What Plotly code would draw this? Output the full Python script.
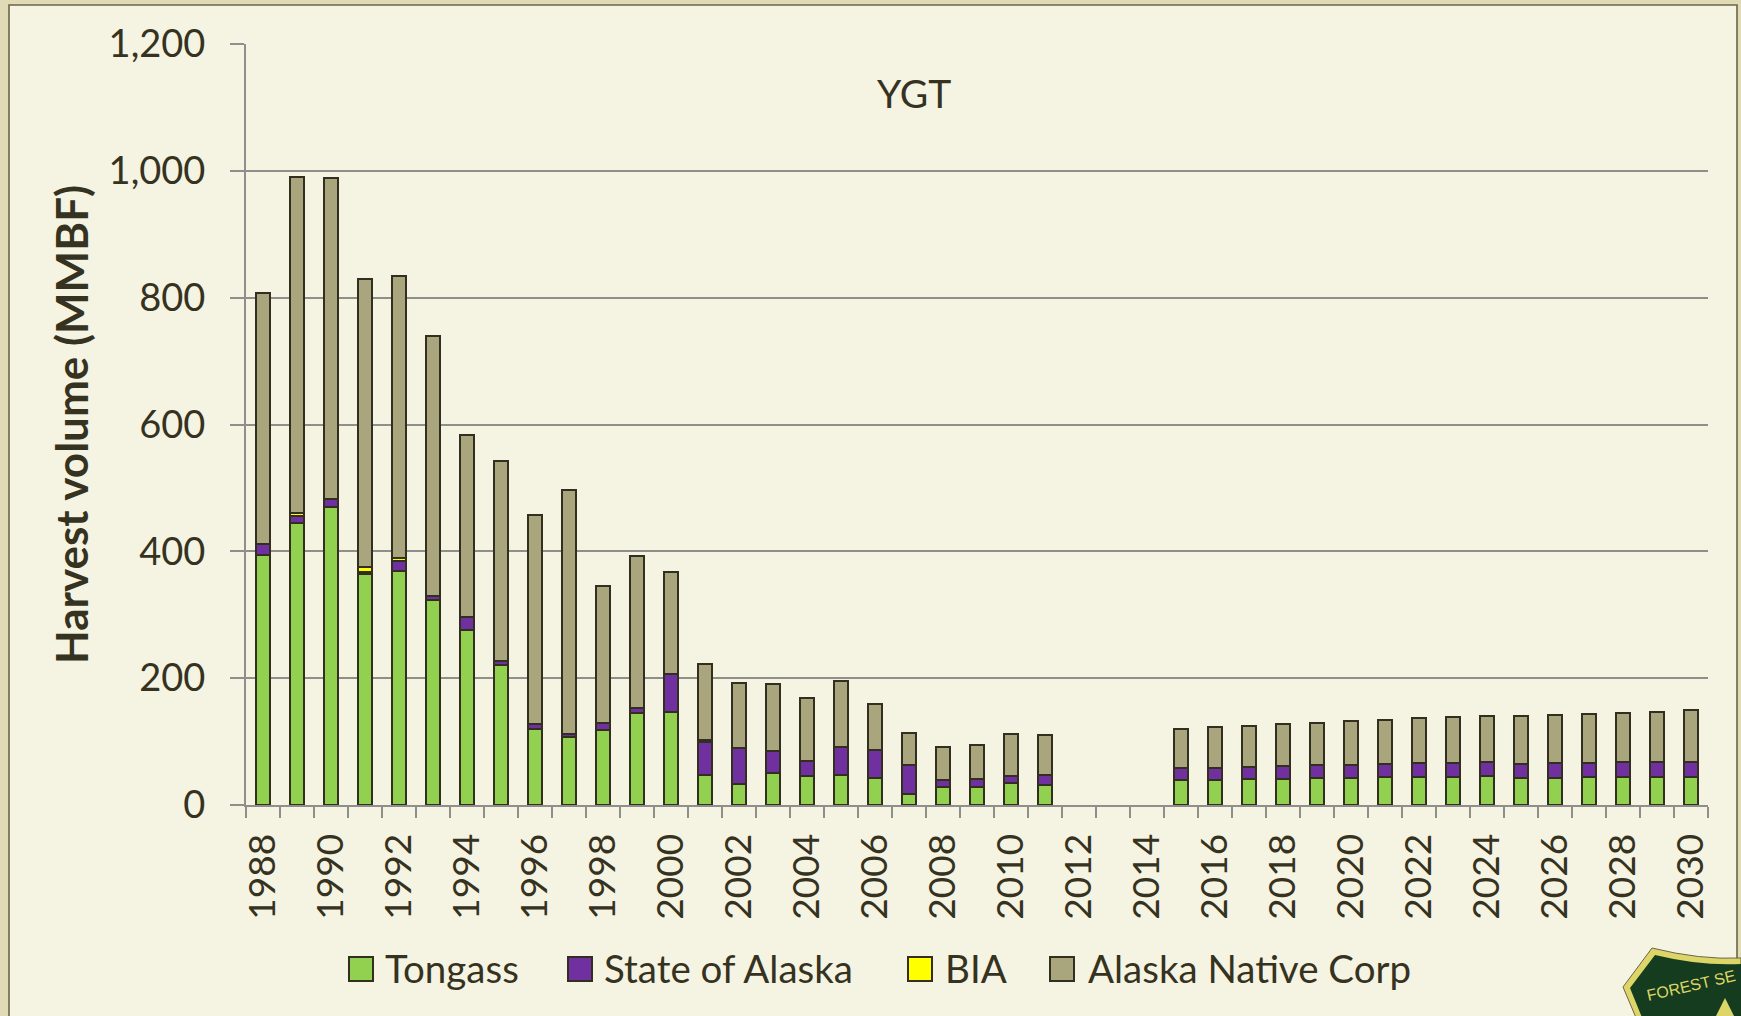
import plotly.graph_objects as go

W, H = 1741, 1016
LEFT, RIGHT, TOP, BOTTOM = 246, 1708, 44, 805

years = [str(y) for y in range(1988, 2031)]
tongass = [395, 445, 470, 364, 369, 324, 276, 220, 120, 107, 119, 145, 146, 47, 33, 50, 45, 48, 42, 18, 28, 28, 35, 32,
           None, None, None,
           39, 40, 40.5, 41.5, 42, 43, 43.6, 44, 44.7, 45.7, 42.6, 43, 43.6, 43.6, 44, 44]
state = [17, 11, 13, 3, 15, 6, 20, 7, 7, 5, 10, 8, 61, 53, 57, 35, 25, 43, 45, 45, 11, 13, 11, 16,
         None, None, None,
         19, 19, 20, 20, 20.5, 20.5, 21, 21.7, 22, 22.3, 22, 22.7, 22.4, 23.7, 24.4, 24.4]
bia = [0, 4, 0, 9, 6, 0, 0, 0, 0, 0, 0, 0, 0, 3, 0, 0, 0, 0, 0, 0, 0, 0, 0, 0,
       None, None, None,
       0, 0, 0, 0, 0, 0, 0, 0, 0, 0, 0, 0, 0, 0, 0, 0]
native = [396, 531, 506, 454, 444, 410, 288, 315, 330, 384, 216, 240, 161, 120, 102, 106, 99, 105, 72, 50, 53, 53, 66, 63,
          None, None, None,
          62, 63.5, 64, 65.5, 67.5, 68.5, 70, 71, 72.2, 73, 75.4, 75.7, 77.5, 77.7, 78.6, 80.9]
series_names = ["Tongass", "State of Alaska", "BIA", "Alaska Native Corp"]
series_values = [tongass, state, bia, native]
series_colors = ["#92D050", "#7030A0", "#FFFF00", "#A9A57C"]
y_ticks = [0, 200, 400, 600, 800, 1000, 1200]

INK = "#35321F"
OUTLINE = "#332F20"
GRID = "#8F8E8A"
FONT = "Lato"


def px(x):
    return (x - LEFT) / (RIGHT - LEFT)


def py(y):
    return (BOTTOM - y) / (BOTTOM - TOP)


fig = go.Figure()
for name, vals, color in zip(series_names, series_values, series_colors):
    fig.add_bar(x=years, y=vals, name=name, showlegend=False,
                marker=dict(color=color, line=dict(color=OUTLINE, width=2)))

shapes = [
    dict(type="rect", xref="paper", yref="paper", layer="below",
         x0=px(9), x1=px(1737), y0=py(H + 20), y1=py(5),
         fillcolor="#F5F4E2", line=dict(color="#6B6448", width=1.6)),
    # Forest Service shield
    dict(type="path", xref="paper", yref="paper", layer="above",
         path=f"M {px(1652)},{py(948)} Q {px(1700)},{py(960)} {px(1741)},{py(958)} L {px(1741)},{py(1020)} "
              f"L {px(1637)},{py(1020)} L {px(1623)},{py(987)} Z",
         fillcolor="#DDD567", line=dict(color="#6B6448", width=1)),
    dict(type="path", xref="paper", yref="paper", layer="above",
         path=f"M {px(1655)},{py(955)} Q {px(1700)},{py(966)} {px(1741)},{py(964)} L {px(1741)},{py(1020)} "
              f"L {px(1643)},{py(1020)} L {px(1630)},{py(988)} Z",
         fillcolor="#153C1F", line=dict(width=0)),
    dict(type="path", xref="paper", yref="paper", layer="above",
         path=f"M {px(1725)},{py(998)} L {px(1736)},{py(1020)} L {px(1714)},{py(1020)} Z",
         fillcolor="#DDD567", line=dict(width=0)),
]

legend_swatches = [(349, 383), (568, 602), (908, 943), (1050, 1086)]
annotations = [
    dict(text="YGT", x=px(914), y=py(93), xref="paper", yref="paper", showarrow=False,
         font=dict(size=39, color=INK, family=FONT), xanchor="center", yanchor="middle"),
    dict(text="FOREST SE", x=px(1643), y=py(986), xref="paper", yref="paper", showarrow=False,
         textangle=-13, font=dict(size=16, color="#DDD567", family="Liberation Sans"),
         xanchor="left", yanchor="middle"),
]
for (sx, tx), name, color in zip(legend_swatches, series_names, series_colors):
    shapes.append(dict(type="rect", xref="paper", yref="paper", x0=px(sx), x1=px(sx + 24),
                       y0=py(981), y1=py(957), fillcolor=color, line=dict(color=OUTLINE, width=2)))
    annotations.append(dict(text=name, x=px(tx), y=py(968), xref="paper", yref="paper", showarrow=False,
                            font=dict(size=38.5, color=INK, family=FONT), xanchor="left", yanchor="middle"))

fig.update_layout(
    width=W, height=H, autosize=False,
    margin=dict(l=LEFT, r=W - RIGHT, t=TOP, b=H - BOTTOM, pad=0),
    paper_bgcolor="#E0DBB5", plot_bgcolor="rgba(0,0,0,0)",
    barmode="stack", bargap=0.58,
    font=dict(family=FONT, color=INK, size=37),
    shapes=shapes, annotations=annotations, showlegend=False,
    xaxis=dict(type="category", categoryorder="array", categoryarray=years,
               range=[-0.5, 42.5], tickmode="linear", tick0=0, dtick=1, ticklabelstep=2,
               tickson="boundaries", ticks="outside", ticklen=11, tickwidth=2, tickcolor=GRID,
               showline=True, linecolor=GRID, linewidth=2, showgrid=False,
               tickangle=-90, ticklabelstandoff=12, tickfont=dict(size=37, color=INK, family=FONT)),
    yaxis=dict(range=[0, 1200], tickmode="array", tickvals=y_ticks,
               ticktext=[f"{v:,}" for v in y_ticks],
               ticks="outside", ticklen=14, tickwidth=2, tickcolor=GRID,
               showline=True, linecolor=GRID, linewidth=2, showgrid=True, gridcolor=GRID, gridwidth=2,
               zeroline=False, ticklabelstandoff=17, tickfont=dict(size=38, color=INK, family=FONT),
               title=dict(text="<b>Harvest volume (MMBF)</b>", standoff=6,
                          font=dict(size=44, color=INK, family=FONT))),
)

fig.write_html("out.html", config=dict(displayModeBar=False),
               post_script="document.body.style.margin='0';document.body.style.overflow='hidden';")
